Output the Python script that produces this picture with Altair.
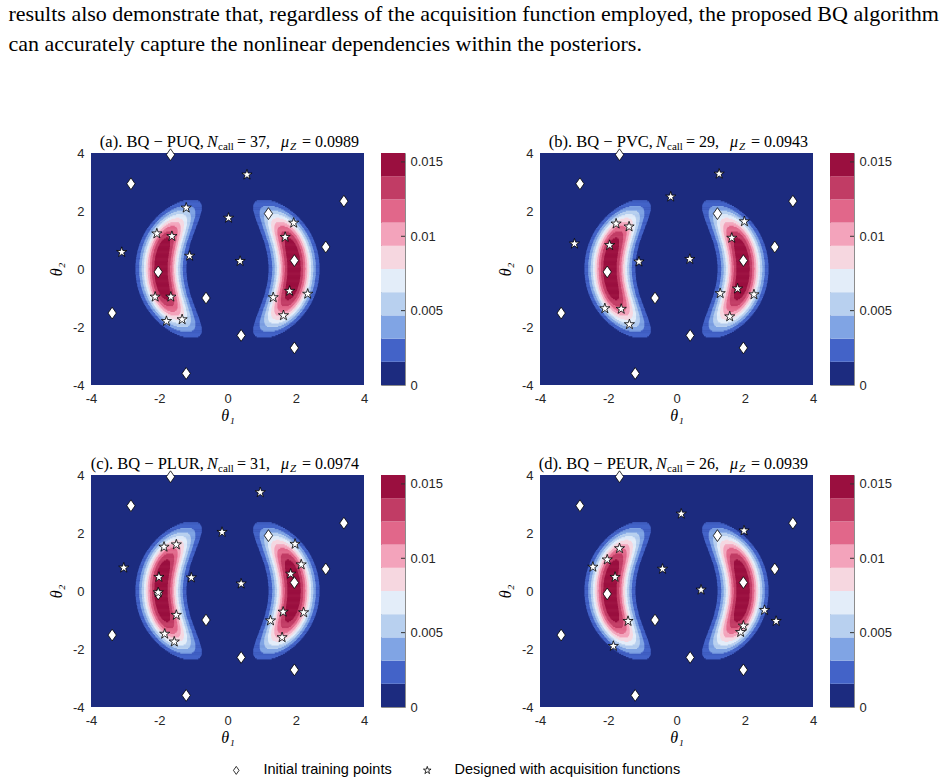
import numpy as np
import pandas as pd
import altair as alt

# ---------------------------------------------------------------- data
# initial training design (same in all four runs)
init_t1 = [-1.67, -2.83, 3.41, 1.20, 2.88, 1.96, -2.03, -0.63, -3.38, 0.40, 1.96, -1.21]
init_t2 = [3.94, 2.94, 2.34, 1.91, 0.76, 0.29, -0.10, -1.00, -1.52, -2.29, -2.72, -3.60]

# points added by each acquisition function
puq_t1 = [0.57, -1.21, 0.03, 1.94, -2.07, -1.63, 1.69, -3.10, -1.11, 0.37, 1.82, -2.12, -1.66, 1.34, 2.35, -1.79, -1.33, 1.64]
puq_t2 = [3.25, 2.11, 1.76, 1.59, 1.22, 1.13, 1.10, 0.58, 0.45, 0.27, -0.76, -0.96, -0.96, -0.98, -0.86, -1.80, -1.74, -1.60]

pvc_t1 = [1.25, -0.17, -1.77, -1.39, 1.99, 1.62, -2.99, -1.96, -1.10, 0.39, 1.79, 1.28, 2.27, -2.10, -1.62, 1.56, -1.38]
pvc_t2 = [3.28, 2.49, 1.56, 1.46, 1.64, 1.07, 0.87, 0.82, 0.25, 0.34, -0.68, -0.84, -0.88, -1.36, -1.38, -1.64, -1.91]

plur_t1 = [0.96, -0.16, -1.86, -1.50, 1.98, 2.16, 1.85, -3.04, -2.01, -1.06, 0.40, -2.03, -1.50, 1.63, 2.23, 1.26, -1.84, -1.56, 1.60]
plur_t2 = [3.40, 2.03, 1.52, 1.60, 1.62, 0.91, 0.59, 0.80, 0.48, 0.46, 0.25, -0.05, -0.83, -0.72, -0.74, -1.02, -1.48, -1.75, -1.60]

peur_t1 = [0.14, 1.98, -1.67, -2.03, -2.45, -0.41, -1.80, 0.72, 2.58, 2.92, -1.42, 1.96, 1.88, -1.85]
peur_t2 = [2.66, 2.08, 1.47, 1.08, 0.83, 0.76, 0.48, 0.04, -0.66, -1.04, -1.04, -1.20, -1.42, -1.90]

designed = [(puq_t1, puq_t2), (pvc_t1, pvc_t2), (plur_t1, plur_t2), (peur_t1, peur_t2)]

panel_tags = ["(a)", "(b)", "(c)", "(d)"]
acq_names = ["PUQ", "PVC", "PLUR", "PEUR"]
n_calls = [37, 29, 31, 26]
mu_z = ["0.0989", "0.0943", "0.0974", "0.0939"]

axis_ticks = [-4, -2, 0, 2, 4]
cbar_ticks = [0, 0.005, 0.01, 0.015]
z_max = 0.0156
n_levels = 10

# filled-contour palette, lowest band first
level_colors = ["#1c2b7f", "#4363c8", "#80a4e4", "#b8d0ef", "#e3edf9",
                "#f6d7e0", "#f3a3bb", "#e1678a", "#c13c65", "#9a0f3f"]

# posterior shape: two mirrored crescents along |t1| = ridge_c - ridge_b * t2^2
ridge_c, ridge_b = 1.95, 0.16
width_a, width_p = 0.52, 2.3
length_c, length_q = 1.92, 3.9

kinds = ["Initial training points", "Designed with acquisition functions"]

# ---------------------------------------------------------------- helpers
def posterior(t1, t2):
    d = np.abs(t1) - (ridge_c - ridge_b * t2 ** 2)
    return (0.995 * z_max * np.exp(-(np.abs(d) / width_a) ** width_p)
            * np.exp(-(np.abs(t2) / length_c) ** length_q))


def contour_bands():
    """Nested horizontal runs of each contour band on a fine grid."""
    xs = np.arange(-4, 4 + 1e-9, 0.01)
    dy = 0.04
    rows = []
    for yc in np.arange(-4 + dy / 2, 4, dy):
        lev = np.clip(np.floor(posterior(xs, yc) / (z_max / n_levels)), 0, n_levels - 1)
        for k in range(1, n_levels):
            m = np.concatenate([[0], (lev >= k).astype(int), [0]])
            diff = np.diff(m)
            starts = np.where(diff == 1)[0]
            ends = np.where(diff == -1)[0] - 1
            for s, e in zip(starts, ends):
                rows.append((max(xs[s] - 0.005, -4), min(xs[e] + 0.005, 4),
                             yc - dy / 2, min(yc + dy / 2 + 0.012, 4), k))
    df = pd.DataFrame(rows, columns=["x0", "x1", "y0", "y1", "level"])
    return df.sort_values("level", kind="stable").reset_index(drop=True)


bands = contour_bands()

PW, PH = 273, 232
SERIF = "Liberation Serif"
SANS = "Liberation Sans"

diamond_path = "M0,-1L0.7,0L0,1L-0.7,0Z"
star_path = ("M0,-1L0.2245,-0.309L0.951,-0.309L0.363,0.118L0.588,0.809L0,0.382"
             "L-0.588,0.809L-0.363,0.118L-0.951,-0.309L-0.2245,-0.309Z")

xscale = alt.Scale(domain=[-4, 4], nice=False, zero=False)
yscale = alt.Scale(domain=[-4, 4], nice=False, zero=False)
color_scale = alt.Scale(domain=list(range(n_levels)), range=level_colors)

AXIS_STYLE = dict(labelFont=SANS, labelFontSize=13, labelColor="#262626",
                  titleFont=SERIF, titleFontStyle="italic", titleFontWeight="normal",
                  titleFontSize=16, titleColor="black", grid=False, ticks=False,
                  domain=False, labelFlush=False)

MARKER_LEGEND = dict(orient="none", legendX=138, legendY=610,
                     direction="horizontal", title=None,
                     labelFont=SANS, labelFontSize=14.5, labelColor="black",
                     symbolSize=64, symbolFillColor="white",
                     symbolStrokeColor="black", symbolStrokeWidth=0.8,
                     columnPadding=28, labelOffset=20, labelLimit=500)


def title_marks(tag, name, ncall, mu):
    segs = [
        (f"{tag}. BQ − {name},", "right", 113, 16.5, "normal", 0),
        ("N", "left", 116, 16, "italic", 0),
        ("call", "left", 127, 11, "normal", 3),
        (f"= {ncall},", "left", 146, 16, "normal", 0),
        ("μ", "left", 190, 16, "italic", 0),
        ("Z", "left", 199, 11, "italic", 3),
        (f"= {mu}", "left", 211, 16, "normal", 0),
    ]
    out = []
    for txt, al, px, fs, st, dy in segs:
        out.append(
            alt.Chart(alt.Data(values=[{}]))
            .mark_text(align=al, baseline="alphabetic", font=SERIF, fontSize=fs,
                       fontStyle=st, color="black")
            .encode(x=alt.value(px), y=alt.value(-6 + dy), text=alt.value(txt))
        )
    return out


def panel(i):
    d1, d2 = designed[i]
    init_df = pd.DataFrame({"t1": init_t1, "t2": init_t2, "kind": kinds[0]})
    des_df = pd.DataFrame({"t1": d1, "t2": d2, "kind": kinds[1]})

    fill = alt.Chart(bands).mark_rect().encode(
        x=alt.X("x0:Q", scale=xscale,
                axis=alt.Axis(values=axis_ticks, title="θ₁", labelPadding=7,
                              titlePadding=2, labelExpr="'' + datum.value",
                              **AXIS_STYLE)),
        x2="x1:Q",
        y=alt.Y("y0:Q", scale=yscale,
                axis=alt.Axis(values=axis_ticks, title="θ₂", labelPadding=7,
                              titlePadding=8, labelExpr="'' + datum.value",
                              **AXIS_STYLE)),
        y2="y1:Q",
        color=alt.Color("level:O", scale=color_scale, legend=None),
    )

    shape = alt.Shape("kind:N",
                      scale=alt.Scale(domain=kinds, range=[diamond_path, star_path]),
                      legend=alt.Legend(**MARKER_LEGEND))
    outline = alt.Stroke("kind:N",
                         scale=alt.Scale(domain=kinds, range=["#000000", "#000000"]),
                         legend=alt.Legend(**MARKER_LEGEND))

    def pts(df, size):
        return alt.Chart(df).mark_point(filled=True, fill="white", strokeWidth=0.8,
                                        opacity=1, size=size).encode(
            x="t1:Q", y="t2:Q", shape=shape, stroke=outline)

    layers = [fill, pts(init_df, 140), pts(des_df, 115)]
    layers += title_marks(panel_tags[i], acq_names[i], n_calls[i], mu_z[i])
    return alt.layer(*layers).properties(
        width=PW, height=PH,
        view=alt.ViewBackground(fill=level_colors[0], strokeWidth=0),
    )


def colorbar():
    lv = pd.DataFrame({
        "level": list(range(n_levels)),
        "lo": [k * z_max / n_levels for k in range(n_levels)],
        "hi": [(k + 1) * z_max / n_levels for k in range(n_levels)],
    })
    cscale = alt.Scale(domain=[0, z_max], nice=False, zero=False)
    bars = alt.Chart(lv).mark_rect().encode(
        y=alt.Y("lo:Q", scale=cscale,
                axis=alt.Axis(orient="right", values=cbar_ticks, format="~g",
                              title=None, labelPadding=5, **AXIS_STYLE)),
        y2="hi:Q",
        color=alt.Color("level:O", scale=color_scale, legend=None),
    )
    tk = alt.Chart(pd.DataFrame({"v": cbar_ticks[1:]})).mark_rule(
        color="#333333", strokeWidth=1).encode(
        y=alt.Y("v:Q", scale=cscale), x=alt.value(20), x2=alt.value(24))
    return alt.layer(bars, tk).properties(
        width=24, height=PH,
        view=alt.ViewBackground(stroke="#8c8c8c", strokeWidth=1),
    )


groups = [alt.hconcat(panel(i), colorbar(), spacing=12) for i in range(4)]
rows = [alt.hconcat(groups[0], groups[1], spacing=53),
        alt.hconcat(groups[2], groups[3], spacing=53)]

para = ["results also demonstrate that, regardless of the acquisition function employed, the proposed BQ algorithm",
        "can accurately capture the nonlinear dependencies within the posteriors."]

chart = alt.vconcat(*rows, spacing=33).properties(
    title=alt.TitleParams(text=para, anchor="start", frame="bounds", font=SERIF,
                          fontSize=22, fontWeight="normal", lineHeight=30,
                          color="black", offset=78, dx=-40),
    padding={"left": 8, "top": 3, "right": 4, "bottom": 4},
    background="white",
).configure_view(strokeWidth=0)

chart.save("out.html", embed_options={"renderer": "svg", "actions": False})
